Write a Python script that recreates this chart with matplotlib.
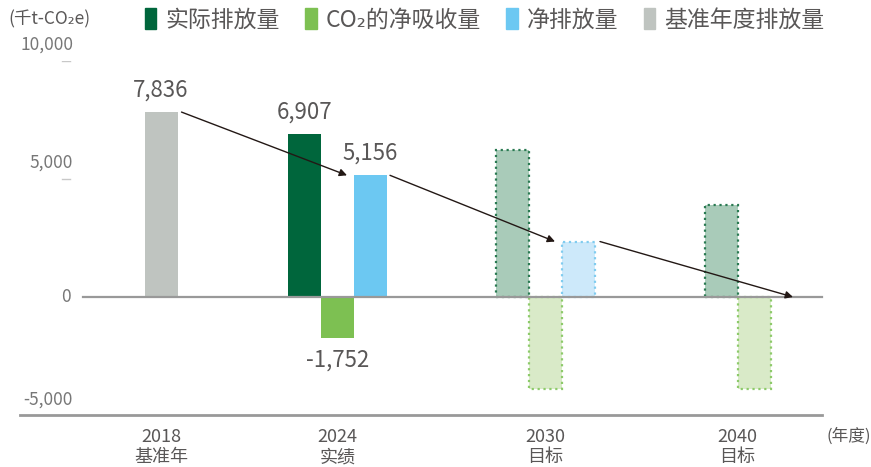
import matplotlib.pyplot as plt
from matplotlib.patches import Patch

plt.rcParams['font.family'] = ['Noto Sans CJK SC', 'DejaVu Sans']

# data (千t-CO2e)
years = ['2018', '2024', '2030', '2040']
year_notes = ['基准年', '实绩', '目标', '目标']
base_year = 7836
actual = [6907, 6250, 3900]        # 2024, 2030, 2040
absorption = [-1752, -3900, -3900]
net = [5156, 2350, 0]
legend_labels = ['实际排放量', 'CO₂的净吸收量', '净排放量', '基准年度排放量']

# layout (pixel-like x units)
W, H = 871, 467
base_x = 161
group_x = [337.5, 545.5, 754]     # centre slot of each group
label_x = [161, 337.5, 545.5, 737]
bw = 33

c_dark = '#00663C'
c_green = '#7DC052'
c_blue = '#6CC8F2'
c_gray = '#BFC4C0'
txt = '#595757'

fig = plt.figure(figsize=(W / 100, H / 100), dpi=100)
ax = fig.add_axes([0, 1 - 415 / H, 1, 354 / H])
ax.set_xlim(0, W)
ax.set_ylim(-5000, 10000)
ax.axis('off')

# axis lines
ax.plot([83, 822], [0, 0], color='#999999', lw=1.6, zorder=3)
ax.plot([20, 822], [-5000, -5000], color='#999999', lw=2, clip_on=False)
for v in [10000, 5000]:
    ax.plot([62, 70], [v, v], color='#c8c8c8', lw=1)
for v, dy in [(10000, 11.5), (5000, 11.5), (0, 0), (-5000, 11)]:
    ax.annotate(f'{v:,}', (73 if v else 71, v), xytext=(0, dy), textcoords='offset points',
                ha='right', va='center', fontsize=12.5, color='#777777')

# base year bar
ax.bar(base_x, base_year, width=bw, color=c_gray, zorder=2)

# actual 2024
ax.bar(group_x[0] - bw, actual[0], width=bw, color=c_dark, zorder=2)
ax.bar(group_x[0], absorption[0], width=bw, color=c_green, zorder=2)
ax.bar(group_x[0] + bw, net[0], width=bw, color=c_blue, zorder=2)

# targets
for i in [1, 2]:
    gx = group_x[i]
    ax.bar(gx - bw, actual[i], width=bw, color='#A9CBB9', edgecolor='#2A7A52',
           linestyle=':', lw=1.6, zorder=2)
    ax.bar(gx, absorption[i], width=bw, color='#D9EAC8', edgecolor='#8DCA6A',
           linestyle=':', lw=1.6, zorder=2)
    if net[i]:
        ax.bar(gx + bw, net[i], width=bw, color='#CDE9FA', edgecolor='#80CCEF',
               linestyle=':', lw=1.6, zorder=2)

# value labels
vals = [(base_x, base_year, 1), (group_x[0] - bw, actual[0], 1),
        (group_x[0] + bw, net[0], 1), (group_x[0], absorption[0], -1)]
for x, v, s in vals:
    ax.annotate(f'{v:,}', (x, v), xytext=(0, s * 16), textcoords='offset points',
                ha='center', va='center', fontsize=16, color=txt)

# trend arrows
pts = [(base_x + bw / 2 + 4, base_year, group_x[0] + bw / 2 - 7, net[0]),
       (group_x[0] + bw * 1.5 + 3, net[0], group_x[1] + bw / 2 - 7, net[1]),
       (group_x[1] + bw * 1.5 + 5, net[1], 793, net[2])]
for x0, y0, x1, y1 in pts:
    ax.annotate('', xy=(x1, y1), xytext=(x0, y0),
                arrowprops=dict(arrowstyle='-|>', color='#231815', lw=1,
                                mutation_scale=11, shrinkA=0, shrinkB=0), zorder=4)

# x labels
for x, y, n in zip(label_x, years, year_notes):
    ax.annotate(y, (x, -5000), xytext=(0, -15.5), textcoords='offset points',
                ha='center', va='center', fontsize=13, color=txt, annotation_clip=False)
    ax.annotate(n, (x, -5000), xytext=(0, -30.5), textcoords='offset points',
                ha='center', va='center', fontsize=13, color=txt, annotation_clip=False)
ax.annotate('(年度)', (849, -5000), xytext=(0, -15.5), textcoords='offset points',
            ha='center', va='center', fontsize=12, color=txt, annotation_clip=False)

# unit + legend
fig.text(8 / W, 1 - 19 / H, '(千t-CO₂e)', ha='left', va='center', fontsize=12.5, color=txt)
handles = [Patch(color=c) for c in [c_dark, c_green, c_blue, c_gray]]
fig.legend(handles, legend_labels, loc='center left', bbox_to_anchor=(145 / W, 1 - 20 / H),
           ncol=4, frameon=False, fontsize=16.5, labelcolor=txt, handlelength=0.5,
           handleheight=1.0, handletextpad=0.4, columnspacing=1.1, borderpad=0,
           borderaxespad=0)

fig.savefig('out.png', dpi=100)
